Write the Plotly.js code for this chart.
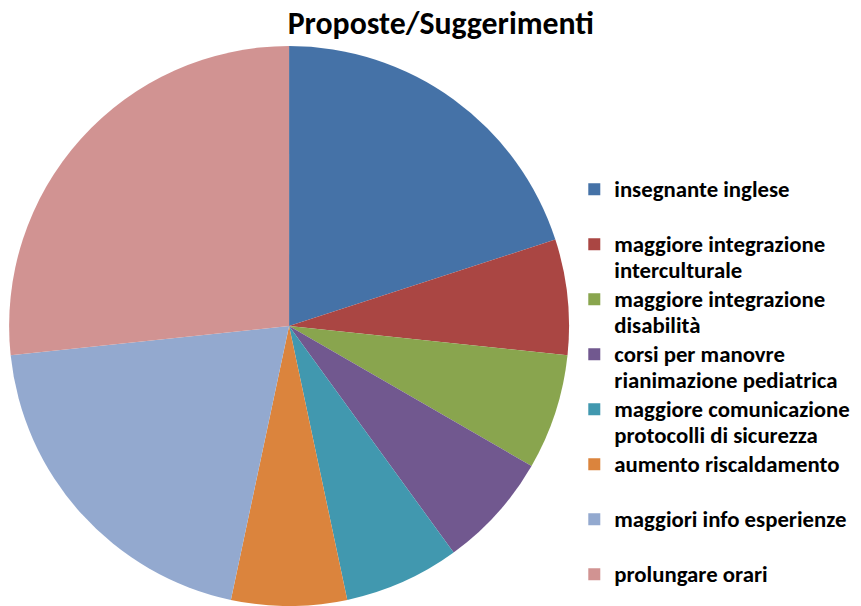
<!DOCTYPE html>
<html>
<head>
<meta charset="utf-8">
<script src="https://cdn.plot.ly/plotly-3.0.1.min.js"></script>
<style>html,body{margin:0;padding:0;background:#fff;}#chart{width:861px;height:606px;}</style>
</head>
<body>
<div id="chart"></div>
<script>
var categories = [
  ["insegnante inglese"],
  ["maggiore integrazione", "interculturale"],
  ["maggiore integrazione", "disabilità"],
  ["corsi per manovre", "rianimazione pediatrica"],
  ["maggiore comunicazione", "protocolli di sicurezza"],
  ["aumento riscaldamento"],
  ["maggiori info esperienze"],
  ["prolungare orari"]
];
var values = [3, 1, 1, 1, 1, 1, 3, 4];
var colors = ["#4572A7", "#AA4643", "#89A54E", "#71588F", "#4198AF", "#DB843D", "#93A9CF", "#D19392"];

var FONT = "Carlito, 'Liberation Sans Narrow', 'DejaVu Sans Condensed', Lato, sans-serif";
var GLYPH = 22.8;

// each legend entry is two lines tall (single-line labels padded) like the original
var legendLabels = categories.map(function (lines) {
  var l = lines.length > 1 ? lines : [lines[0], " "];
  return l.map(function (t) {
    return "<span style='font-size:" + GLYPH + "px'>" + t + "</span>";
  }).join("<br>");
});

var trace = {
  type: "pie",
  labels: legendLabels,
  values: values,
  marker: { colors: colors, line: { width: 0 } },
  sort: false,
  direction: "clockwise",
  rotation: 0,
  textinfo: "none",
  hoverinfo: "value+percent",
  domain: { x: [0.0105, 0.661], y: [0, 0.924] }
};

var layout = {
  width: 861,
  height: 606,
  margin: { l: 0, r: 0, t: 0, b: 0, autoexpand: false },
  paper_bgcolor: "#ffffff",
  title: {
    text: "<b>Proposte/Suggerimenti</b>",
    font: { family: FONT, size: 31.8, color: "#000000" },
    x: 0.512, xanchor: "center",
    y: 0.963, yanchor: "middle"
  },
  showlegend: true,
  legend: {
    x: 0.667, xanchor: "left",
    y: 0.720, yanchor: "top",
    valign: "top",
    font: { family: FONT, size: 20, color: "#000000", weight: "bold" },
    itemclick: false,
    bgcolor: "rgba(0,0,0,0)"
  }
};

Plotly.newPlot("chart", [trace], layout, { displayModeBar: false, staticPlot: true });
</script>
</body>
</html>
